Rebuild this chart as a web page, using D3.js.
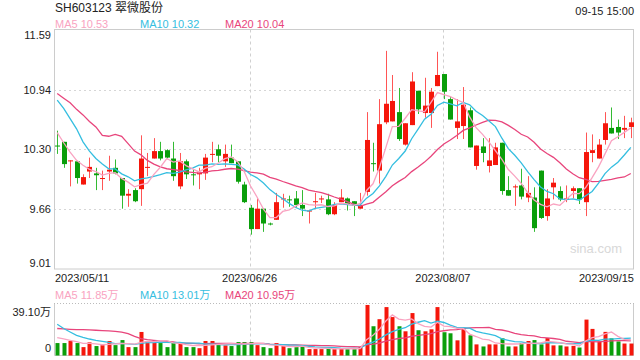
<!DOCTYPE html>
<html>
<head>
<meta charset="utf-8">
<script src="https://cdn.jsdelivr.net/npm/d3@7"></script>
<style>
  body { margin: 0; background: #fff; }
  text { font-family: "Liberation Sans", Arial, "Noto Sans CJK SC", sans-serif; }
</style>
</head>
<body>
<script>
// trading days, by month (2023)
const may = [11, 12, 15, 16, 17, 18, 19, 22, 23, 24, 25, 26, 29, 30, 31];
const jun = [1, 2, 5, 6, 7, 8, 9, 12, 13, 14, 15, 16, 19, 20, 21, 26, 27, 28, 29, 30];
const jul = [3, 4, 5, 6, 7, 10, 11, 12, 13, 14, 17, 18, 19, 20, 21, 24, 25, 26, 27, 28, 31];
const aug = [1, 2, 3, 4, 7, 8, 9, 10, 11, 14, 15, 16, 17, 18, 21, 22, 23, 24, 25, 28, 29, 30, 31];
const sep = [1, 4, 5, 6, 7, 8, 11, 12, 13, 14, 15];

const dateTicks = ['2023/05/11', '2023/06/26', '2023/08/07', '2023/09/15'];
const priceTicks = [9.01, 9.66, 10.30, 10.94, 11.59];
const volumeTop = 39.10;

const open = [10.34, 10.38, 10.17, 10.17, 9.92, 10.06, 10.04, 9.98, 10.06, 10.10,
    9.99, 9.80, 9.86, 9.87, 10.10, 10.20, 10.28, 10.29, 10.20, 9.90,
    10.17, 10.03, 10.03, 10.04, 10.24, 10.30, 10.17, 10.21, 10.17, 9.92,
    9.67, 9.44, 9.66, 9.50, 9.54, 9.76, 9.76, 9.77, 9.70, 9.63,
    9.73, 9.76, 9.76, 9.60, 9.73, 9.77, 9.74, 9.66, 9.84, 10.15,
    10.07, 10.59, 10.60, 10.70, 10.35, 10.56, 10.93, 10.69, 10.69, 10.98,
    11.11, 10.84, 10.53, 10.55, 10.72, 10.12, 10.33, 10.12, 10.13, 10.37,
    9.86, 9.89, 9.91, 9.78, 9.78, 10.07, 9.58, 9.89, 9.85, 9.76,
    9.85, 9.88, 9.73, 10.26, 10.20, 10.40, 10.53, 10.54, 10.51, 10.54];
const high = [10.50, 10.38, 10.18, 10.17, 10.03, 10.21, 10.10, 10.07, 10.23, 10.19,
    9.99, 9.87, 9.88, 10.45, 10.26, 10.42, 10.38, 10.30, 10.38, 10.26,
    10.19, 10.08, 10.10, 10.25, 10.38, 10.35, 10.35, 10.35, 10.17, 9.95,
    9.70, 9.77, 9.66, 9.51, 9.83, 9.82, 9.80, 9.85, 9.86, 9.64,
    9.83, 9.80, 9.82, 9.73, 9.87, 9.78, 9.74, 9.83, 10.70, 10.37,
    10.84, 11.36, 11.10, 10.96, 10.58, 11.13, 10.93, 11.07, 10.96, 11.35,
    11.11, 10.87, 10.84, 10.97, 10.75, 10.34, 10.42, 10.42, 10.37, 10.37,
    10.01, 9.92, 10.09, 10.01, 9.89, 10.07, 9.87, 9.99, 9.90, 9.91,
    9.90, 9.88, 10.48, 10.46, 10.41, 10.70, 10.75, 10.62, 10.66, 10.64];
const low = [10.25, 10.10, 9.90, 9.93, 9.92, 9.99, 9.86, 9.86, 9.96, 10.03,
    9.66, 9.68, 9.73, 9.69, 10.01, 10.20, 10.18, 10.20, 9.96, 9.87,
    9.98, 9.91, 9.87, 9.97, 10.16, 10.16, 10.11, 10.15, 9.93, 9.72,
    9.38, 9.44, 9.41, 9.48, 9.54, 9.67, 9.68, 9.67, 9.58, 9.50,
    9.66, 9.72, 9.59, 9.59, 9.73, 9.64, 9.58, 9.66, 9.80, 10.06,
    9.93, 10.57, 10.60, 10.39, 10.34, 10.56, 10.68, 10.64, 10.53, 10.98,
    10.84, 10.62, 10.41, 10.41, 10.32, 10.08, 10.16, 10.05, 10.13, 9.81,
    9.80, 9.69, 9.76, 9.73, 9.41, 9.55, 9.53, 9.76, 9.74, 9.73,
    9.77, 9.71, 9.58, 10.16, 10.20, 10.35, 10.47, 10.41, 10.42, 10.42];
const close = [10.33, 10.14, 10.18, 9.99, 10.00, 10.11, 10.02, 9.99, 10.08, 10.04,
    9.80, 9.82, 9.74, 10.20, 10.11, 10.28, 10.20, 10.21, 10.01, 10.17,
    10.03, 10.02, 10.05, 10.21, 10.25, 10.23, 10.25, 10.15, 9.95, 9.73,
    9.44, 9.66, 9.50, 9.49, 9.73, 9.77, 9.75, 9.70, 9.66, 9.64,
    9.74, 9.77, 9.60, 9.70, 9.78, 9.71, 9.69, 9.70, 10.40, 10.14,
    10.57, 10.79, 10.82, 10.41, 10.58, 11.03, 10.73, 10.77, 10.92, 11.10,
    10.92, 10.62, 10.60, 10.78, 10.32, 10.34, 10.26, 10.18, 10.32, 9.85,
    9.80, 9.90, 9.79, 9.83, 9.45, 9.56, 9.77, 9.94, 9.76, 9.77,
    9.88, 9.76, 10.27, 10.29, 10.35, 10.58, 10.47, 10.48, 10.53, 10.59];
// volume, 万
const volume = [9.35, 9.35, 10.9, 9.35, 6.3, 9.9, 7.1, 7.8, 10.9, 7.8,
    11.6, 6.3, 6.3, 17.7, 10.9, 11.3, 9.35, 6.3, 9.35, 9.35,
    6.3, 6.3, 5.5, 10.9, 10.9, 8.35, 7.6, 7.1, 10.1, 10.1,
    10.1, 7.8, 6.3, 5.5, 9.35, 7.1, 5.5, 6.3, 6.8, 4.8,
    4.8, 4.8, 5.5, 4.8, 5.5, 4.8, 4.8, 6.3, 38.0, 22.0,
    27.3, 36.4, 28.9, 22.0, 18.2, 31.9, 19.0, 18.2, 19.7, 36.4,
    17.5, 16.7, 11.4, 19.7, 15.2, 8.35, 6.8, 8.35, 8.35, 12.9,
    6.8, 6.8, 9.35, 10.9, 11.6, 8.35, 13.1, 7.6, 7.6, 6.8,
    7.25, 6.0, 27.0, 20.0, 10.6, 17.76, 12.9, 10.6, 9.0, 9.0];

// averages before the window is full (the earlier days are not in the data)
const ma5Head = [10.48, 10.37, 10.27, 10.18];
const ma10Head = [10.83, 10.74, 10.63, 10.52, 10.38, 10.28, 10.20, 10.14, 10.09];
const ma20Head = [10.90, 10.85, 10.80, 10.73, 10.67, 10.60, 10.54, 10.45, 10.44, 10.46,
    10.44, 10.36, 10.28, 10.24, 10.18, 10.14, 10.11, 10.09, 10.08];
const vma5Head = [13.4, 12.5, 11.4, 10.4];
const vma10Head = [23.5, 20.3, 17.7, 15.2, 13.7, 12.4, 11.4, 10.6, 9.9];
const vma20Head = [20.3, 20.0, 19.7, 19.5, 19.5, 19.2, 19.0, 18.7, 18.5, 18.2,
    17.5, 16.5, 14.4, 12.7, 11.9, 11.4, 11.0, 10.6, 10.2];

const width = 640;
const height = 360;
const left = 54, right = 634;
const mainTop = 29.5, mainBottom = 269;
const volTop = 303.5, volBottom = 355.5;

const red = '#f5160b', green = '#0a9e0a';
const redWick = '#f55', greenWick = '#3b3';
const c5 = '#f9a3c1', c10 = '#35bee0', c20 = '#e8457c';

const pad = n => String(n).padStart(2, '0');
const dates = [[5, may], [6, jun], [7, jul], [8, aug], [9, sep]]
    .flatMap(([m, days]) => days.map(d => `2023/${pad(m)}/${pad(d)}`));

function movingAverage(values, n, head) {
    return values.map((v, i) => i < n - 1 ? head[i] : d3.mean(values.slice(i - n + 1, i + 1)));
}

const ma5 = movingAverage(close, 5, ma5Head);
const ma10 = movingAverage(close, 10, ma10Head);
const ma20 = movingAverage(close, 20, ma20Head);
const vma5 = movingAverage(volume, 5, vma5Head);
const vma10 = movingAverage(volume, 10, vma10Head);
const vma20 = movingAverage(volume, 20, vma20Head);

const x = d3.scaleBand().domain(dates).range([left, right]);
const cx = d => x(d) + x.bandwidth() / 2;
const y = d3.scaleLinear().domain([priceTicks[0], priceTicks[priceTicks.length - 1]]).range([mainBottom, mainTop]);
const yv = d3.scaleLinear().domain([0, volumeTop]).range([volBottom, volTop]);

const svg = d3.select('body').append('svg')
    .attr('width', width)
    .attr('height', height);

// header
svg.append('text').attr('x', 55).attr('y', 12).attr('font-size', 12).attr('fill', '#222')
    .text('SH603123 翠微股份');
svg.append('text').attr('x', right).attr('y', 15).attr('font-size', 11).attr('fill', '#222')
    .attr('text-anchor', 'end').text('09-15 15:00');

const last = a => a[a.length - 1].toFixed(2);
const legend = (yPos, items) => {
    items.forEach(([label, color, xPos]) => {
        svg.append('text').attr('x', xPos).attr('y', yPos).attr('font-size', 11)
            .attr('fill', color).text(label);
    });
};
legend(28, [['MA5 ' + last(ma5), c5, 55], ['MA10 ' + last(ma10), c10, 140], ['MA20 ' + last(ma20), c20, 225]]);
legend(299, [['MA5 ' + last(vma5) + '万', c5, 55], ['MA10 ' + last(vma10) + '万', c10, 140], ['MA20 ' + last(vma20) + '万', c20, 225]]);

// grid
const grid = svg.append('g');
priceTicks.slice(1, -1).forEach(p => {
    grid.append('line').attr('x1', left).attr('x2', right)
        .attr('y1', Math.round(y(p)) + 0.5).attr('y2', Math.round(y(p)) + 0.5)
        .attr('stroke', '#d6d6d6').attr('stroke-dasharray', '2,3');
});
dateTicks.slice(1, -1).forEach(d => {
    const gx = Math.round(cx(d)) - 0.5;
    [[mainTop, mainBottom], [volTop, volBottom]].forEach(([t, b]) => {
        grid.append('line').attr('x1', gx).attr('x2', gx).attr('y1', t).attr('y2', b)
            .attr('stroke', '#d0d0d0').attr('stroke-dasharray', '3,3');
    });
});

// frames
svg.append('rect').attr('x', left + 0.5).attr('y', mainTop).attr('width', right - left - 1)
    .attr('height', mainBottom - mainTop).attr('fill', 'none').attr('stroke', '#ccc');
svg.append('path')
    .attr('d', `M${left + 0.5},${volTop}V${volBottom}H${right - 0.5}V${volTop}`)
    .attr('fill', 'none').attr('stroke', '#ccc');
svg.append('line').attr('x1', left).attr('x2', right).attr('y1', volTop).attr('y2', volTop)
    .attr('stroke', '#bbb').attr('stroke-dasharray', '1,2');

// axis labels
const yLabels = svg.append('g').attr('font-size', 11).attr('fill', '#222').attr('text-anchor', 'end');
priceTicks.forEach((p, i) => {
    let dy = 4;
    if (i === 0) dy = -2;
    if (i === priceTicks.length - 1) dy = 9.5;
    yLabels.append('text').attr('x', 51).attr('y', y(p) + dy).text(p.toFixed(2));
});
yLabels.append('text').attr('x', 51).attr('y', yv(volumeTop) + 12).text(volumeTop.toFixed(2) + '万');
yLabels.append('text').attr('x', 51).attr('y', yv(0) - 3.5).text('0');

dateTicks.forEach((d, i) => {
    let anchor = 'middle', tx = cx(d) - 1;
    if (i === 0) { anchor = 'start'; tx = left + 1; }
    if (i === dateTicks.length - 1) { anchor = 'end'; tx = right; }
    svg.append('text').attr('x', tx).attr('y', 282).attr('font-size', 11)
        .attr('fill', '#222').attr('text-anchor', anchor).text(d);
});

// watermark
svg.append('text').attr('x', 622).attr('y', 253).attr('font-size', 13)
    .attr('fill', '#d8d8d8').attr('text-anchor', 'end').text('sina.com');

// candles
const idx = d3.range(dates.length);
const up = i => close[i] >= open[i];
const bodyW = 5;

const candles = svg.append('g');
candles.selectAll('line')
    .data(idx)
    .enter()
    .append('line')
    .attr('x1', i => Math.round(cx(dates[i])) + 0.5)
    .attr('x2', i => Math.round(cx(dates[i])) + 0.5)
    .attr('y1', i => y(high[i]))
    .attr('y2', i => y(low[i]))
    .attr('stroke', i => up(i) ? redWick : greenWick);
candles.selectAll('rect')
    .data(idx)
    .enter()
    .append('rect')
    .attr('x', i => Math.round(cx(dates[i])) + 0.5 - bodyW / 2)
    .attr('width', bodyW)
    .attr('y', i => y(Math.max(open[i], close[i])))
    .attr('height', i => Math.max(1, Math.abs(y(open[i]) - y(close[i]))))
    .attr('fill', i => up(i) ? red : green);

// volume bars
svg.append('g').selectAll('rect')
    .data(idx)
    .enter()
    .append('rect')
    .attr('x', i => Math.round(cx(dates[i])) + 0.5 - 2)
    .attr('width', 4)
    .attr('y', i => yv(volume[i]))
    .attr('height', i => yv(0) - yv(volume[i]))
    .attr('fill', i => up(i) ? red : green);

// moving averages
const lineFor = scale => d3.line()
    .x((v, i) => cx(dates[i]))
    .y(v => scale(v))
    .curve(d3.curveLinear);

[[ma20, c20], [ma10, c10], [ma5, c5]].forEach(([series, color]) => {
    svg.append('path').attr('d', lineFor(y)(series))
        .attr('fill', 'none').attr('stroke', color).attr('stroke-width', 1.3);
});
[[vma20, c20], [vma10, c10], [vma5, c5]].forEach(([series, color]) => {
    svg.append('path').attr('d', lineFor(yv)(series))
        .attr('fill', 'none').attr('stroke', color).attr('stroke-width', 1.3);
});
</script>
</body>
</html>
